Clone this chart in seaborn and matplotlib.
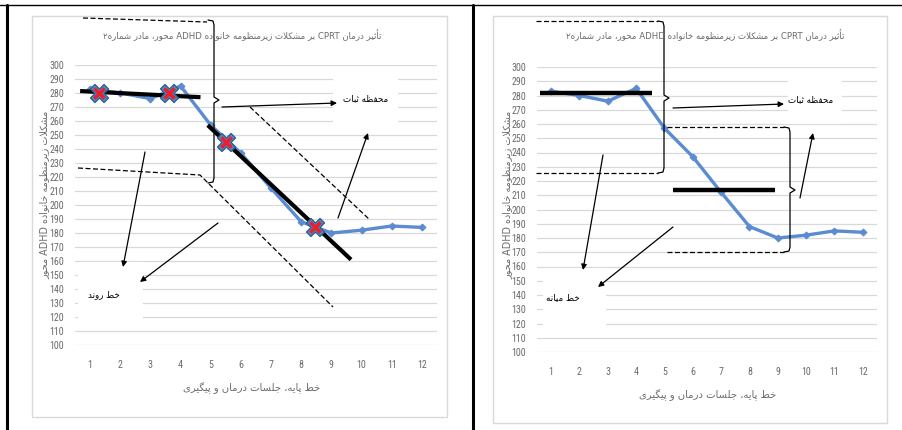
import matplotlib
matplotlib.use("Agg")
import matplotlib.pyplot as plt
import seaborn as sns
import pandas as pd
from matplotlib import font_manager
from matplotlib.patches import Rectangle

# ---------------- data ----------------
sessions = list(range(1, 13))
scores = [283, 280, 276, 285, 257, 237, 212, 188, 180, 182, 185, 184]
x_tick_labels = [str(s) for s in sessions]
y_ticks = list(range(100, 301, 10))

# left panel: trend lines (split-middle) and split points
trend_base_x = [0.67, 4.66]
trend_base_y = [281.4, 277.0]
trend_treat_x = [4.9, 9.65]
trend_treat_y = [257.0, 161.0]
split_x = [1.3, 3.6, 5.5, 8.45]
split_y = [280, 280, 245, 184]

# right panel: median lines
median_base_x = [0.61, 4.56]
median_base_y = [281.5, 281.5]
median_treat_x = [5.3, 8.9]
median_treat_y = [213.7, 213.7]

title_txt = "تأثیر درمان CPRT بر مشکلات زیرمنظومه خانواده ADHD محور، مادر شماره۲"
ylabel_txt = "مشکلات زیرمنظومه خانواده ADHD محور"
xlabel_txt = "خط پایه، جلسات درمان و پیگیری"
stab_txt = "محفظه ثبات"
trend_txt = "خط روند"
median_txt = "خط میانه"

# ---------------- simple Persian shaping ----------------
FORMS = {
    'ا': ('\uFE8D', '\uFE8E', None, None),
    'أ': ('\uFE83', '\uFE84', None, None),
    'ب': ('\uFE8F', '\uFE90', '\uFE91', '\uFE92'),
    'پ': ('\uFB56', '\uFB57', '\uFB58', '\uFB59'),
    'ت': ('\uFE95', '\uFE96', '\uFE97', '\uFE98'),
    'ث': ('\uFE99', '\uFE9A', '\uFE9B', '\uFE9C'),
    'ج': ('\uFE9D', '\uFE9E', '\uFE9F', '\uFEA0'),
    'ح': ('\uFEA1', '\uFEA2', '\uFEA3', '\uFEA4'),
    'خ': ('\uFEA5', '\uFEA6', '\uFEA7', '\uFEA8'),
    'د': ('\uFEA9', '\uFEAA', None, None),
    'ر': ('\uFEAD', '\uFEAE', None, None),
    'ز': ('\uFEAF', '\uFEB0', None, None),
    'س': ('\uFEB1', '\uFEB2', '\uFEB3', '\uFEB4'),
    'ش': ('\uFEB5', '\uFEB6', '\uFEB7', '\uFEB8'),
    'ط': ('\uFEC1', '\uFEC2', '\uFEC3', '\uFEC4'),
    'ظ': ('\uFEC5', '\uFEC6', '\uFEC7', '\uFEC8'),
    'ف': ('\uFED1', '\uFED2', '\uFED3', '\uFED4'),
    'ک': ('\uFB8E', '\uFB8F', '\uFB90', '\uFB91'),
    'گ': ('\uFB92', '\uFB93', '\uFB94', '\uFB95'),
    'ل': ('\uFEDD', '\uFEDE', '\uFEDF', '\uFEE0'),
    'م': ('\uFEE1', '\uFEE2', '\uFEE3', '\uFEE4'),
    'ن': ('\uFEE5', '\uFEE6', '\uFEE7', '\uFEE8'),
    'ه': ('\uFEE9', '\uFEEA', '\uFEEB', '\uFEEC'),
    'و': ('\uFEED', '\uFEEE', None, None),
    'ی': ('\uFBFC', '\uFBFD', '\uFBFE', '\uFBFF'),
}
LAM_ALEF = {'ا': ('\uFEFB', '\uFEFC'), 'أ': ('\uFEF7', '\uFEF8')}


def _dual(c):
    return c in FORMS and FORMS[c][2] is not None


def shape_word(w):
    out = []
    i, n = 0, len(w)
    while i < n:
        c = w[i]
        prev = w[i - 1] if i > 0 else None
        cp = prev is not None and _dual(prev) and c in FORMS
        if c == 'ل' and i + 1 < n and w[i + 1] in LAM_ALEF:
            out.append(LAM_ALEF[w[i + 1]][1 if cp else 0])
            i += 2
            continue
        if c not in FORMS:
            out.append(c)
            i += 1
            continue
        nxt = w[i + 1] if i + 1 < n else None
        cn = _dual(c) and nxt is not None and nxt in FORMS
        iso, fin, ini, med = FORMS[c]
        out.append(med if (cp and cn) else fin if cp else ini if cn else iso)
        i += 1
    return ''.join(reversed(out))


def rtl(text):
    words = []
    for w in text.split(' '):
        if any(ch.isascii() and ch.isalnum() for ch in w):
            words.append(w)
        else:
            words.append(shape_word(w))
    return ' '.join(reversed(words))


# ---------------- style ----------------
sns.set_theme(style="white")
names = {f.name for f in font_manager.fontManager.ttflist}
narrow = "DejaVu Sans"
for cand in ["Liberation Sans Narrow", "Roboto Condensed", "Open Sans Condensed", "Roboto", "Liberation Sans"]:
    if cand in names:
        narrow = cand
        break
plt.rcParams['font.family'] = ['DejaVu Sans']

W, H = 903, 430
fig = plt.figure(figsize=(W / 100, H / 100), dpi=100)
fig.patch.set_facecolor("white")

BLUE = "#5b8bd0"
GRID = "#d9d9d9"
TXT = "#6b6b6b"

df = pd.DataFrame({"session": sessions, "score": scores})


def px_box(x0, y0, x1, y1):
    return [x0 / W, 1 - y1 / H, (x1 - x0) / W, (y1 - y0) / H]


def make_panel(box):
    ax = fig.add_axes(px_box(*box))
    ax.set_xlim(0.5, 12.5)
    ax.set_ylim(100, 300)
    ax.set_yticks(y_ticks)
    ax.set_xticks(sessions)
    ax.set_xticklabels(x_tick_labels)
    for s in ax.spines.values():
        s.set_visible(False)
    ax.grid(axis="y", color=GRID, lw=0.9)
    ax.grid(axis="x", visible=False)
    ax.tick_params(length=0, labelsize=7.2, labelcolor=TXT)
    ax.tick_params(axis="y", pad=8)
    ax.tick_params(axis="x", pad=11)
    for lab in ax.get_xticklabels() + ax.get_yticklabels():
        lab.set_fontfamily(narrow)
    ax.set_axisbelow(True)
    sns.lineplot(data=df, x="session", y="score", ax=ax, color=BLUE, lw=2.4,
                 marker="D", markersize=3.5, markeredgecolor=BLUE, zorder=3)
    ax.set_xlabel("")
    ax.set_ylabel("")
    return ax


# left panel
axL = make_panel((75, 65, 437, 345))
axL.plot(trend_base_x, trend_base_y, color="black", lw=3, solid_capstyle="butt", zorder=4)
axL.plot(trend_treat_x, trend_treat_y, color="black", lw=3, solid_capstyle="butt", zorder=4)
axL.scatter(split_x, split_y, marker="X", s=170, color="#4a8ad0", edgecolors="#2c5d86",
            linewidths=0.9, zorder=5)
axL.scatter(split_x, split_y, marker="x", s=55, color="#e8202a", linewidths=2.6, zorder=6)

# right panel
axR = make_panel((537, 67, 877, 352))
axR.plot(median_base_x, median_base_y, color="black", lw=3.2, solid_capstyle="butt", zorder=4)
axR.plot(median_treat_x, median_treat_y, color="black", lw=3.2, solid_capstyle="butt", zorder=4)

# ---------------- overlay (pixel coordinates) ----------------
ov = fig.add_axes([0, 0, 1, 1], zorder=10)
ov.set_xlim(0, W)
ov.set_ylim(H, 0)
ov.axis("off")
ov.patch.set_alpha(0)


def rect(x0, y0, x1, y1, fc="white", ec="none", lw=0.8, z=1):
    ov.add_patch(Rectangle((x0, y0), x1 - x0, y1 - y0, facecolor=fc, edgecolor=ec, lw=lw, zorder=z))


def dashed(pts):
    xs, ys = zip(*pts)
    ov.plot(xs, ys, color="black", lw=0.9, ls=(0, (4, 2)), zorder=3)


def brace(x, y0, y1, ym):
    xs = [x - 6, x - 1, x, x, x + 5, x, x, x - 1, x - 6]
    ys = [y0, y0 + 1, y0 + 5, ym - 3, ym, ym + 3, y1 - 5, y1 - 1, y1]
    ov.plot(xs, ys, color="black", lw=0.9, zorder=3)


def arrow(p0, p1):
    ov.annotate("", xy=p1, xytext=p0,
                arrowprops=dict(arrowstyle="-|>", color="black", lw=0.9,
                                mutation_scale=8, shrinkA=0, shrinkB=0), zorder=4)


# chart-area frames
rect(32, 16, 447, 417, fc="none", ec=GRID, lw=1.0, z=0)
rect(493, 16, 887, 423, fc="none", ec=GRID, lw=1.0, z=0)

# white label boxes
rect(333, 75, 398, 132)
rect(78, 262, 143, 330)
rect(788, 73, 842, 124)
rect(543, 268, 606, 335)

# titles and axis labels
ov.text(242, 35, rtl(title_txt), fontsize=6.2, color=TXT, ha="center", va="center", zorder=5)
ov.text(705, 35, rtl(title_txt), fontsize=6.2, color=TXT, ha="center", va="center", zorder=5)
ov.text(44, 195, rtl(ylabel_txt), fontsize=6.9, color=TXT, ha="center", va="center",
        rotation=90, zorder=5)
ov.text(507, 195, rtl(ylabel_txt), fontsize=6.9, color=TXT, ha="center", va="center",
        rotation=90, zorder=5)
ov.text(252, 388, rtl(xlabel_txt), fontsize=7.2, color=TXT, ha="center", va="center", zorder=5)
ov.text(708, 395, rtl(xlabel_txt), fontsize=7.2, color=TXT, ha="center", va="center", zorder=5)

# left annotations
dashed([(83, 18), (207, 22)])
dashed([(78, 168), (200, 175), (333, 307)])
dashed([(250, 107), (370, 220)])
brace(214, 20, 183, 100)
arrow((222, 107), (337, 103))
arrow((338, 218), (368, 133))
arrow((145, 152), (123, 267))
arrow((218, 223), (140, 282))
ov.text(366, 99, rtl(stab_txt), fontsize=6.3, color="black", ha="center", va="center", zorder=5)
ov.text(104, 295, rtl(trend_txt), fontsize=6.3, color="black", ha="center", va="center", zorder=5)

# right annotations
dashed([(536, 21), (658, 21)])
dashed([(536, 173), (658, 173)])
brace(664, 21, 173, 98)
dashed([(667, 127), (784, 127)])
dashed([(667, 252), (784, 252)])
brace(790, 127, 252, 190)
arrow((673, 108), (784, 104))
arrow((800, 198), (813, 133))
arrow((603, 155), (583, 270))
arrow((673, 227), (598, 287))
ov.text(811, 100, rtl(stab_txt), fontsize=6.3, color="black", ha="center", va="center", zorder=5)
ov.text(563, 298, rtl(median_txt), fontsize=6.3, color="black", ha="center", va="center", zorder=5)

# table borders
ov.plot([0, W], [5, 5], color="black", lw=1.0, zorder=6)
ov.plot([7, 7], [5, H], color="black", lw=2.2, zorder=6)
ov.plot([473.5, 473.5], [5, H], color="black", lw=2.2, zorder=6)

fig.savefig("out.png", dpi=100, facecolor="white")
